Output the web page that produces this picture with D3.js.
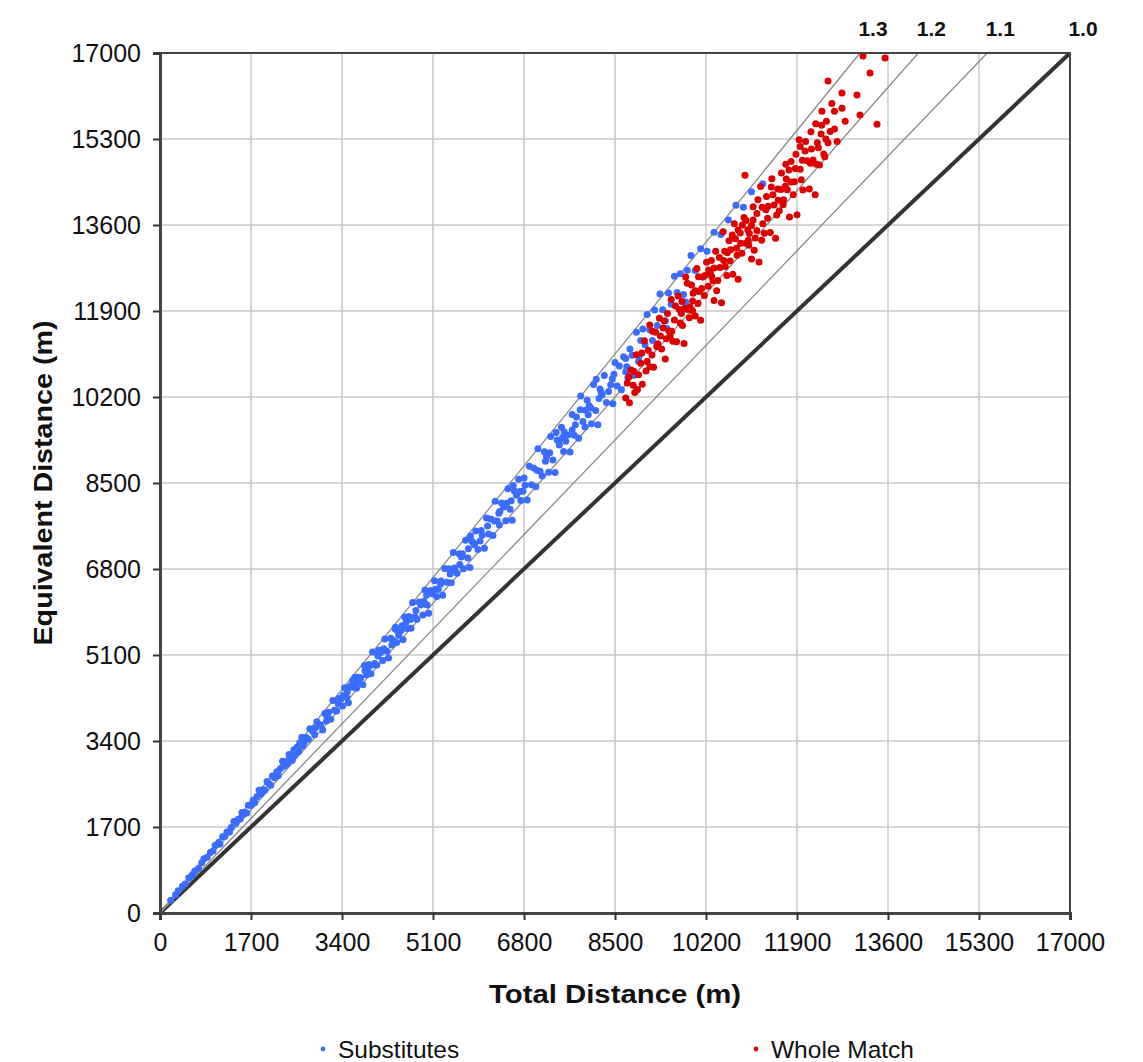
<!DOCTYPE html>
<html>
<head>
<meta charset="utf-8">
<script src="https://cdn.jsdelivr.net/npm/d3@7"></script>
<style>
  body { margin: 0; background: #fff; }
  text { font-family: Arial, "Liberation Sans", sans-serif; }
</style>
</head>
<body>
<div id="chart"></div>
<script>
// axis ticks (metres)
const tickValues = [0, 1700, 3400, 5100, 6800, 8500, 10200, 11900, 13600, 15300, 17000];
// ratio reference lines
const ratios = [1.0, 1.1, 1.2, 1.3];
const ratioLabels = ['1.0', '1.1', '1.2', '1.3'];
const seriesNames = ['Substitutes', 'Whole Match'];

// [total distance, equivalent distance]
const substitutes = [
  [200,254],[290,360],[340,442],[420,529],[470,573],[540,697],[610,763],[650,832],[720,886],[780,991],
  [820,1074],[880,1100],[940,1194],[990,1228],[1030,1339],[1080,1361],[1120,1366],[1170,1509],[1210,1513],[1250,1600],
  [1300,1599],[1330,1689],[1380,1808],[1420,1775],[1460,1854],[1500,1860],[1530,1989],[1580,1991],[1620,1976],[1650,2129],
  [1700,2125],[1740,2227],[1770,2177],[1810,2299],[1850,2424],[1880,2350],[1920,2438],[1960,2430],[2000,2600],[2030,2558],
  [2070,2525],[2100,2709],[2140,2675],[2180,2790],[2210,2718],[2250,2858],[2290,3000],[2320,2900],[2350,2985],[2380,2951],
  [2410,3133],[2440,3074],[2470,3013],[2500,3225],[2530,3163],[2560,3277],[2590,3186],[2620,3327],[2650,3472],[2690,3363],
  [2730,3467],[2770,3435],[2800,3640],[2850,3591],[2890,3526],[2930,3780],[2970,3713],
  [2420,3098],[2480,3150],[2510,3112],[2580,3251],[2610,3367],[2660,3298],[2540,3226],[2460,3075],
  [3000,3720],[3040,3618],[3080,3942],[3110,3794],[3150,3969],[3190,3828],[3230,4199],[3260,4010],[3300,3993],[3340,4242],
  [3380,4225],[3410,4092],[3450,4451],[3490,4258],[3520,4154],[3560,4486],[3600,4464],[3640,4659],[3670,4441],[3710,4563],
  [3750,4650],[3790,4510],[3820,4890],[3860,4709],[3900,4914],[3940,4728],[3970,5161],[4010,4932],[4050,4901],[4090,5194],
  [4120,5150],[4160,4992],[4200,5418],[4240,5173],[4270,5039],[4310,5431],[4350,5394],[4390,5619],[4420,5348],[4460,5486],
  [4500,5580],[4540,5403],[4570,5850],[4610,5624],[4650,5859],[4690,5628],[4720,6136],[4760,5855],[4800,5808],[4840,6147],
  [4870,6088],[4910,5892],[4950,6386],[4990,6088],[5020,5924],[5060,6376],[5090,6312],
  [3500,4375],[3700,4662],[3950,4898],[4180,5225],[4430,5582],[4680,5803],[4930,6163],[3330,4129],[3830,4788],[4600,5750],
  [5130,6566],[5170,6256],[5200,6396],[5240,6498],[5280,6283],[5320,6810],[5360,6539],[5400,6804],[5440,6528],[5480,7124],
  [5510,6777],[5550,6716],[5590,7099],[5630,7038],[5670,6804],[5710,7366],[5750,7015],[5790,6832],[5830,7346],[5870,7279],
  [5900,7552],[5940,7187],[5980,7355],[6020,7465],[6060,7211],[6100,7808],[6140,7491],[6180,7787],[6220,7464],[6260,8138],
  [6300,7749],[6340,7671],[6380,8103],[6420,8025],[6460,7752],[6500,8385],[6540,7979],[6580,7764],[6620,8341],[6660,8258],
  [6700,8576],[6740,8155],[6780,8339],[6820,8457],[6860,8163],[6900,8832],[6940,8467],[6980,8795],
  [5250,6563],[5500,6820],[5760,7200],[6000,7560],[6250,7750],[6480,8100],[6720,8333],[5600,6888],[6350,7938],
  [7020,8424],[7060,9178],[7100,8733],[7140,8639],[7180,9119],[7220,9025],[7260,8712],[7300,9417],[7340,8955],[7380,8708],
  [7420,9349],[7460,9250],[7500,9600],[7540,9123],[7580,9323],[7620,9449],[7660,9115],[7700,9856],[7740,9443],[7780,9803],
  [7820,9384],[7860,10218],[7900,9717],[7940,9607],[7980,10135],[8020,10025],[8060,9672],[8100,10449],[8140,9931],[8180,9652],
  [8220,10357],[8260,10242],[8300,10624],[8340,10091],[8380,10307],[8420,10441],[8460,10067],[8500,10880],[8540,10419],[8580,10811],
  [8620,10344],[8660,10998],[8700,10701],[8740,10575],[8780,11151],[8820,11025],[8860,10632],[8900,11481],[8940,10907],[8980,11315],
  [7200,8928],[7450,9313],[7700,9548],[7950,9938],[8200,10168],[8450,10563],[8700,10962],[7550,9513],[8050,9982],
  [9020,11546],[9060,11234],[9100,11830],[9150,11529],[9200,11316],[9240,11920],[9290,11613],[9340,12235],[9390,11925],[9440,11706],
  [9500,12255],[9550,12033],[9610,12589],[9660,12268],[9720,12636],[9780,12225],[9850,12707],[9920,12995],[10000,12700],[10100,13130],
  [10220,13082],[10350,13455],[10480,13414],[10620,13700],[10760,13988],[10900,13952],[11050,14255],[11260,14413],[9470,11553],[9820,12079],
  [600,740],[1100,1400],[1560,1950],[1900,2380],[2200,2780],[2700,3420],[2900,3650],[3120,3880],[3420,4300],[3620,4550],
  [3880,4820],[4070,5080],[4330,5300],[4520,5680],[4780,5980],[4980,6280],[5150,6400],[5420,6700],[5650,7100],[5880,7300],
  [6120,7650],[6330,7900],[6560,8150],[6800,8600],[7040,8750],[7280,9100],[7520,9400],[7760,9650],[8000,9850],[8240,10300],
  [8480,10650],[8720,10800],[8950,11000],[5800,7450],[6600,8450],[7400,9500],[8150,10550],[4400,5650],[3600,4600],[7850,9950]
];

const wholeMatch = [
  [8700,10179],[8730,10476],[8770,10086],[8800,10736],[8840,10431],[8870,10289],[8900,11036],[8940,10639],[8980,10866],[9010,10452],
  [9050,11313],[9080,10714],[9120,11126],[9150,11621],[9190,11028],[9220,10787],[9260,11482],[9300,11253],[9330,11756],[9370,11150],
  [9400,11562],[9440,10950],[9480,11850],[9510,11507],[9550,12129],[9580,11304],
  [8850,10709],[9000,11070],[9200,11500],[9350,11407],[9460,11352],
  [9610,11724],[9650,11291],[9680,12197],[9720,11664],[9750,12090],[9790,11259],[9820,12570],[9860,11931],[9890,11769],[9930,12413],
  [9960,12251],[10000,11800],[10030,12738],[10070,12285],[10100,11716],[10140,12574],[10170,12204],[10210,12865],[10240,12390],[10280,12644],
  [10310,12578],[10350,12110],[10380,13079],[10420,12504],[10450,12958],[10490,12064],[10520,13466],[10560,12778],[10590,12602],
  [9700,11931],[9800,11956],[9900,11979],[10000,12300],[10120,12346],[10250,12710],[10330,12499],[10460,12761],[10550,13082],[9760,11614],
  [10060,12575],
  [10630,13288],[10660,13112],[10700,12626],[10730,13627],[10770,13139],[10800,12528],[10840,13442],[10870,13044],[10910,13747],[10940,13237],
  [10980,13505],[11010,13432],[11050,12929],[11080,13961],[11120,13344],[11150,13826],[11190,12869],[11220,14362],[11260,13625],[11290,13435],
  [11330,14163],[11360,13973],[11400,13452],[11430,14516],[11470,13993],[11500,13340],[11540,14310],[11570,13884],
  [10650,12887],[10750,13330],[10850,13237],[10950,13688],[11050,13592],[11150,13492],[11250,13950],[11350,13734],[11450,14198],[11550,14091],
  [10800,13500],[11000,13200],
  [11610,14629],[11650,14097],[11680,14366],[11720,14298],[11760,13759],[11790,14855],[11830,14196],[11870,14719],[11900,13804],[11940,15283],
  [11980,14496],[12010,14292],[12050,15063],[12090,14871],[12130,14313],[12160,15443],[12200,14884],[12240,14198],[12280,15227],[12320,14784],
  [12360,15574],[12400,15004],[12440,15301],[12480,15226],
  [11700,14508],[11850,14457],[12000,14880],[12150,14823],[12300,15129],[11750,14688],
  [8760,10600],[8920,10350],[9100,10900],[9280,11200],[9420,11700],[9560,11500],[9630,12000],[9740,11850],[9850,12450],[9950,12100],
  [10050,12050],[10180,12600],[10300,12900],[10400,12300],[10530,12900],[10600,13050],[10690,13400],[10780,13000],[10880,13600],[10990,13300],
  [11080,13700],[11170,14100],[11240,13300],[11320,13900],[11420,14350],[11520,13800],[11600,14300],[11690,14800],[11780,14450],[11880,15000],
  [11960,14700],[12060,15250],[12170,15100],[12260,14800],[12350,15400],[12450,15650],[12250,15600],[11960,15150],[11640,14000],[11100,13100],
  [10350,12750],[9950,11900],[9530,11400],[9150,10800],[12520,15450],[12600,15850],[12420,14950],
  [10928,14583],[12366,15851],[12480,16445],[12740,16208],[13020,16168],[12740,15910],[13077,15772],[13395,15594],[13133,16940],[13544,16900],
  [13264,16604],[12600,15500],[12800,15650],[12550,16000],[12650,15250]
];

const svg = d3.select('#chart').append('svg')
  .attr('width', 1143)
  .attr('height', 1062);

const plot = { left: 160, right: 1070, top: 53, bottom: 913 };

const x = d3.scaleLinear().domain([0, 17000]).range([plot.left, plot.right]);
const y = d3.scaleLinear().domain([0, 17000]).range([plot.bottom, plot.top]);

// gridlines
svg.append('g').selectAll('line')
  .data(tickValues.slice(1, -1))
  .join('line')
  .attr('x1', d => x(d)).attr('x2', d => x(d))
  .attr('y1', plot.top).attr('y2', plot.bottom)
  .attr('stroke', '#c8c8c8').attr('stroke-width', 1.5);

svg.append('g').selectAll('line')
  .data(tickValues.slice(1, -1))
  .join('line')
  .attr('y1', d => y(d)).attr('y2', d => y(d))
  .attr('x1', plot.left).attr('x2', plot.right)
  .attr('stroke', '#c8c8c8').attr('stroke-width', 1.5);

// ratio lines
svg.append('g').selectAll('line')
  .data(ratios)
  .join('line')
  .attr('x1', x(0)).attr('y1', y(0))
  .attr('x2', d => x(Math.min(17000, 17000 / d)))
  .attr('y2', d => y(Math.min(17000, 17000 * d)))
  .attr('stroke', d => d === 1.0 ? '#333' : '#8a8a8a')
  .attr('stroke-width', d => d === 1.0 ? 4 : 1.3);

svg.append('g').selectAll('text')
  .data(ratios)
  .join('text')
  .attr('x', d => x(17000 / d) + 13)
  .attr('y', 36)
  .attr('text-anchor', 'middle')
  .attr('font-size', 21)
  .attr('font-weight', 'bold')
  .attr('fill', '#111')
  .text((d, i) => ratioLabels[i]);

// points
const pts = svg.append('g');
pts.selectAll('circle.sub')
  .data(substitutes)
  .join('circle')
  .attr('class', 'sub')
  .attr('cx', d => x(d[0])).attr('cy', d => y(d[1]))
  .attr('r', 3.5)
  .attr('fill', '#3a6cff');

pts.selectAll('circle.whole')
  .data(wholeMatch)
  .join('circle')
  .attr('class', 'whole')
  .attr('cx', d => x(d[0])).attr('cy', d => y(d[1]))
  .attr('r', 3.5)
  .attr('fill', '#dd0000');

// frame
svg.append('rect')
  .attr('x', plot.left).attr('y', plot.top)
  .attr('width', plot.right - plot.left).attr('height', plot.bottom - plot.top)
  .attr('fill', 'none').attr('stroke', '#444').attr('stroke-width', 2);

// axes
const xAxis = d3.axisBottom(x).tickValues(tickValues).tickSize(7).tickPadding(13).tickFormat(d3.format('d'));
const yAxis = d3.axisLeft(y).tickValues(tickValues).tickSize(7).tickPadding(12).tickFormat(d3.format('d'));

const gx = svg.append('g').attr('transform', `translate(0,${plot.bottom})`).call(xAxis);
const gy = svg.append('g').attr('transform', `translate(${plot.left},0)`).call(yAxis);

[gx, gy].forEach(g => {
  g.select('.domain').attr('stroke', '#444').attr('stroke-width', 3);
  g.selectAll('.tick line').attr('stroke', '#333').attr('stroke-width', 2);
  g.selectAll('.tick text')
    .attr('font-size', 25)
    .attr('font-family', 'Arial, "Liberation Sans", sans-serif')
    .attr('fill', '#111');
});

// axis titles
svg.append('text')
  .attr('x', x(8500)).attr('y', 1003)
  .attr('text-anchor', 'middle')
  .attr('font-size', 25).attr('font-weight', 'bold').attr('fill', '#111')
  .attr('textLength', 252).attr('lengthAdjust', 'spacingAndGlyphs')
  .text('Total Distance (m)');

svg.append('text')
  .attr('transform', `translate(52,${y(8500)}) rotate(-90)`)
  .attr('text-anchor', 'middle')
  .attr('font-size', 25).attr('font-weight', 'bold').attr('fill', '#111')
  .attr('textLength', 325).attr('lengthAdjust', 'spacingAndGlyphs')
  .text('Equivalent Distance (m)');

// legend
const legend = svg.append('g');
const legendItems = [
  { name: seriesNames[0], color: '#3a6cff', x: 323 },
  { name: seriesNames[1], color: '#dd0000', x: 756 }
];
legendItems.forEach(item => {
  legend.append('circle').attr('cx', item.x).attr('cy', 1049).attr('r', 2.4).attr('fill', item.color);
  legend.append('text')
    .attr('x', item.x + 15).attr('y', 1058)
    .attr('font-size', 24.5).attr('fill', '#111')
    .text(item.name);
});
</script>
</body>
</html>
